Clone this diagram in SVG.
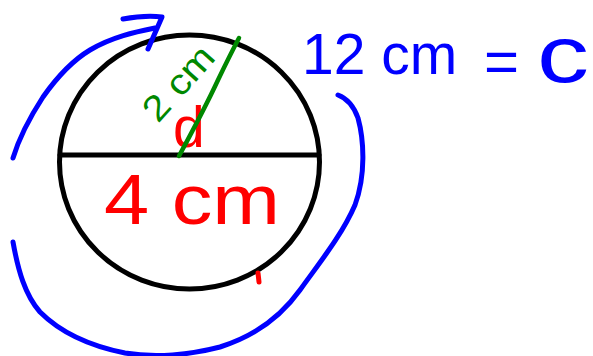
<svg xmlns="http://www.w3.org/2000/svg" width="593" height="356" viewBox="0 0 593 356">
<style>
.ink{fill:none;stroke-linecap:round;stroke-linejoin:round}
.blue{stroke:#0000ff;stroke-width:5}
.black{stroke:#000;stroke-width:5}
.green{stroke:#008800;stroke-width:4.5}
.red{stroke:#ff0000;stroke-width:5}
.hand{font-family:"Liberation Sans",Arial,sans-serif;stroke-linejoin:round}
</style>
<rect width="593" height="356" fill="#fff"/>
<g id="circle">
<ellipse cx="189.5" cy="162" rx="130" ry="127" class="ink black" stroke-width="4.5"/>
<line x1="60" y1="155" x2="319" y2="155" class="ink black"/>
</g>
<g id="diameter-labels">
<text class="hand" x="173" y="147" font-size="57" fill="#ff0000">d</text>
<text class="hand" x="104" y="224" font-size="70" fill="#ff0000" textLength="176" lengthAdjust="spacingAndGlyphs">4 cm</text>
<line x1="258" y1="273" x2="259" y2="282" class="ink red" stroke-width="3"/>
</g>
<g id="radius">
<path d="M179,156 Q205,108 218,80 Q230,55 239,38" class="ink green"/>
<text class="hand" x="0" y="0" font-size="36" fill="#008800" textLength="88" lengthAdjust="spacingAndGlyphs" transform="translate(158,124) rotate(-48)">2 cm</text>
</g>
<g id="circumference">
<path d="M123,19 Q145,15 162,17 L148,49" class="ink blue"/>
<path d="M155,28 C135,32 112,37 90,50 C70,62 55,80 43,97 C30,117 20,135 13,158" class="ink blue"/>
<path d="M13,242 C18,270 25,295 40,312 C60,332 90,346 125,353 C155,358 190,355 220,347 C255,336 280,318 300,290 C320,262 342,235 355,205 C366,175 364,140 358,118 C353,104 346,98 338,95" class="ink blue"/>
</g>
<g id="formula">
<text class="hand" x="302" y="74" font-size="57" fill="#0000ff">12 cm</text>
<text class="hand" x="484" y="82" font-size="60" fill="#0000ff">=</text>
<text class="hand" x="537" y="82" font-size="80" fill="#0000ff" textLength="52" lengthAdjust="spacingAndGlyphs">c</text>
</g>
</svg>
